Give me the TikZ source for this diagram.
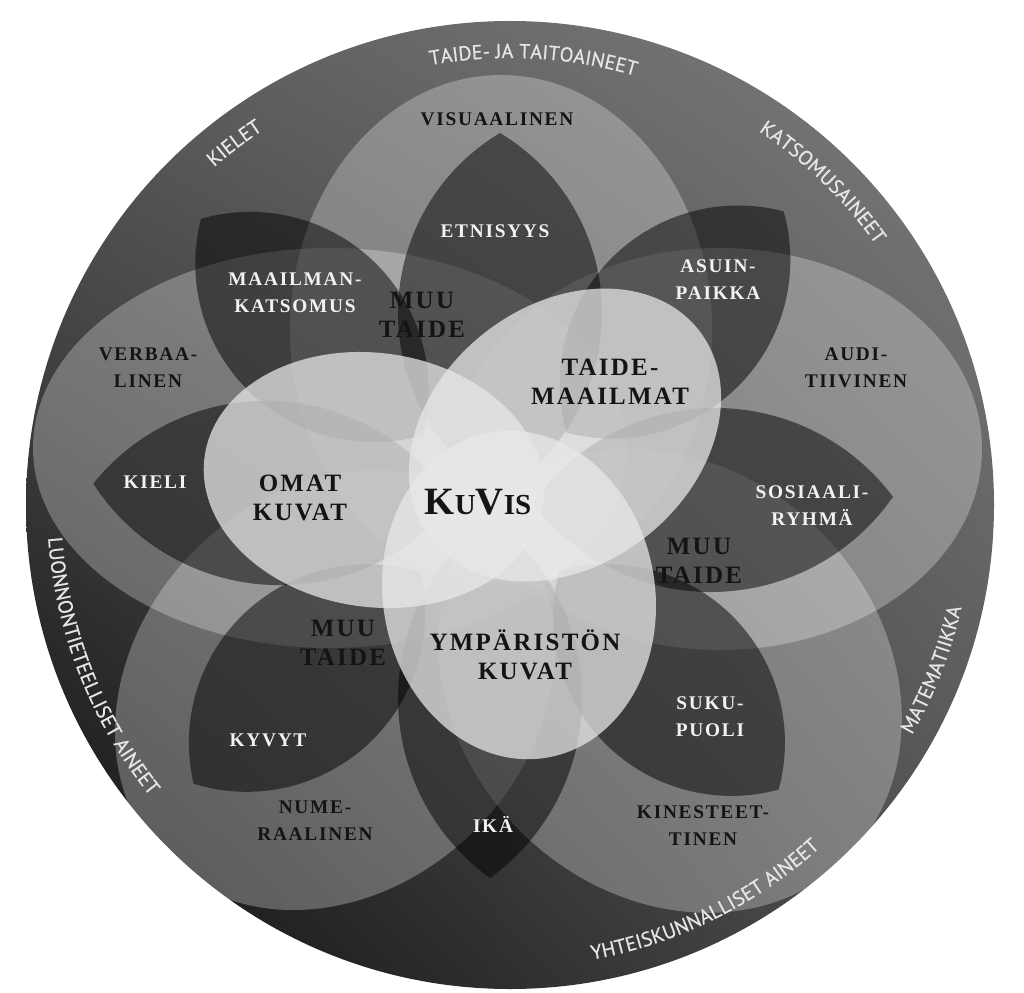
\documentclass[tikz,border=0pt]{standalone}
\usepackage{fontspec}
\setmainfont{Liberation Serif}
\newfontfamily\rimfont[FakeBold=0.5]{PT Sans}
\newfontfamily\lblfont[LetterSpace=9]{Liberation Serif}
\usepackage{xcolor}
\usetikzlibrary{decorations.text, shadings}
\definecolor{reunaUL}{HTML}{5A5B5D}
\definecolor{reunaUR}{HTML}{7C7E80}
\definecolor{reunaLL}{HTML}{0C0C0C}
\definecolor{reunaLR}{HTML}{505152}
\definecolor{keskiv}{HTML}{E8E8E8}
\definecolor{tekstim}{HTML}{141414}
\definecolor{tekstiv}{HTML}{F2F2F2}
\definecolor{reunateksti}{HTML}{E6E6E6}
\newcommand{\rimfmt}{\rimfont\fontsize{11.5}{13}\selectfont\color{reunateksti}}

\tikzset{
  vaalea/.style={fill=white, opacity=0.28},
  tumma/.style={fill=black, opacity=0.5},
  keski/.style={fill=keskiv, opacity=0.74},
  musta/.style={font=\lblfont\bfseries\fontsize{11}{15.3}\selectfont, text=tekstim, align=center, inner sep=0pt},
  iso/.style={musta, font=\lblfont\bfseries\fontsize{14.2}{16.4}\selectfont},
  valko/.style={musta, text=tekstiv},
  kaari/.style={decorate, decoration={text along path, text align=center, text={|\rimfmt|#1}}}
}

\begin{document}
\begin{tikzpicture}[x=0.02cm, y=0.02cm]
    \useasboundingbox (0,0) rectangle (1024,-993);
    \coordinate (keskus) at (510,-505);
    % pohja
    \shade[upper left=reunaUL, upper right=reunaUR, lower left=reunaLL, lower right=reunaLR] (keskus) circle [radius=484];

    % isot lohkot
    \fill[vaalea] (501,-330) ellipse [x radius=211, y radius=255];%visuaalinen
    \fill[vaalea] (330,-448) ellipse [x radius=297, y radius=200];%verbaalinen
    \fill[vaalea] (720,-449) ellipse [x radius=262, y radius=201];%auditiivinen
    \fill[vaalea, rotate around={-45:(670,-681)}] (670,-681) ellipse [x radius=250, y radius=212];%kinesteettinen
    \fill[vaalea, rotate around={45:(335,-690)}] (335,-690) ellipse [x radius=240, y radius=198];%numeraalinen

    % tummat linssit: keskipiste, suunta, puolipituus, puolileveys
    \foreach \cx/\cy/\ang/\L/\w in {500/313/90/180/102, 675/322/45.5/155/90, 713/500/1/180/92, 669/680/-45/155/90,
                                    490/698/-90/180/92, 307/678/-137/155/90, 273/493/177/180/92, 312/327/135.7/155/90}{
      \pgfmathsetmacro\R{(\L/10)*(\L/10)*50/\w + \w/2}
      \pgfmathsetmacro\kulma{atan((\R-\w)/\L)}
      \begin{scope}[shift={(\cx,-\cy)}, rotate=\ang]
        \fill[tumma] (\L,0) arc[start angle=\kulma, end angle=180-\kulma, radius=\R]
          arc[start angle=180+\kulma, end angle=360-\kulma, radius=\R] -- cycle;
      \end{scope}
    }

    % keskimmäiset
    \fill[keski, rotate around={38:(565,-435)}] (565,-435) ellipse [x radius=170, y radius=130];%taidemaailmat
    \fill[keski, rotate around={-8:(374,-480)}] (374,-480) ellipse [x radius=171, y radius=127];%omat kuvat
    \fill[keski, rotate around={-80:(519,-595)}] (519,-595) ellipse [x radius=165, y radius=136];%ympäristön kuvat

    % reunan tekstit
    \path[kaari={TAIDE- JA TAITOAINEET}] ([shift={(keskus)}]127:447) arc[start angle=127, end angle=47, radius=447];
    \path[kaari={KIELET}] ([shift={(keskus)}]167.3:449) arc[start angle=167.3, end angle=87.3, radius=449];
    \path[kaari={KATSOMUSAINEET}] ([shift={(keskus)}]85.9:449) arc[start angle=85.9, end angle=5.9, radius=449];
    \path[kaari={MATEMATIIKKA}] ([shift={(keskus)}]-61.3:463) arc[start angle=-61.3, end angle=18.7, radius=463];
    \path[kaari={YHTEISKUNNALLISET AINEET}] ([shift={(keskus)}]-103.8:462) arc[start angle=-103.8, end angle=-23.8, radius=462];
    \path[kaari={LUONNONTIETEELLISET AINEET}] ([shift={(keskus)}]161.5:463) arc[start angle=161.5, end angle=241.5, radius=463];

    % nimet
    \node[musta] (visu) at (497,-119) {VISUAALINEN};
    \node[musta] (verb) at (148,-368) {VERBAA-\\LINEN};
    \node[musta] (audi) at (856,-368) {AUDI-\\TIIVINEN};
    \node[musta] (nume) at (315,-821) {NUME-\\RAALINEN};
    \node[musta] (kine) at (703,-826) {KINESTEET-\\TINEN};
    \node[iso] (taide) at (610,-382) {TAIDE-\\MAAILMAT};
    \node[iso] (omat) at (300,-498) {OMAT\\KUVAT};
    \node[iso] (ymp) at (525,-655) {YMPÄRISTÖN\\KUVAT};
    \node[iso] (muu1) at (422,-315) {MUU\\TAIDE};
    \node[iso] (muu2) at (699,-561) {MUU\\TAIDE};
    \node[iso] (muu3) at (343,-643) {MUU\\TAIDE};
    \node[text=tekstim, font=\bfseries\fontsize{22}{24}\selectfont, inner sep=0pt] (kuvis) at (478,-502)
      {K{\fontsize{16.5}{18}\selectfont U}V{\fontsize{16.5}{18}\selectfont IS}};

    \node[valko] (etn) at (495,-231) {ETNISYYS};
    \node[valko] (maail) at (295,-293) {MAAILMAN-\\KATSOMUS};
    \node[valko] (asuin) at (718,-280) {ASUIN-\\PAIKKA};
    \node[valko] (kieli) at (155,-482) {KIELI};
    \node[valko] (sos) at (812,-506) {SOSIAALI-\\RYHMÄ};
    \node[valko] (suku) at (710,-717) {SUKU-\\PUOLI};
    \node[valko] (kyv) at (268,-740) {KYVYT};
    \node[valko] (ika) at (493,-824) {IKÄ};
\end{tikzpicture}
\end{document}
